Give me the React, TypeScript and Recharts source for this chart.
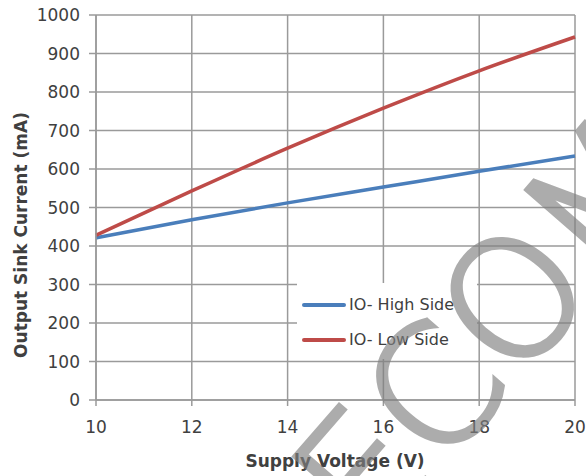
import React from "react"
import { LineChart, Line, XAxis, YAxis, CartesianGrid } from "recharts"

// Supply voltage (V) on the x axis
const voltage = [10, 12, 14, 16, 18, 20]
// output sink current (mA)
const highSide = [421, 468, 512, 553, 594, 634]
const lowSide = [428, 543, 654, 758, 855, 943]

const xTicks = [10, 12, 14, 16, 18, 20]
const yTicks = [0, 100, 200, 300, 400, 500, 600, 700, 800, 900, 1000]

const seriesNames = ["IO- High Side", "IO- Low Side"]
const seriesColors = ["#4a7ebb", "#be4b48"]

const data = voltage.map((v, i) => ({ v, high: highSide[i], low: lowSide[i] }))

const FONT = "'DejaVu Sans', sans-serif"
const GRID = "#9a9a9a"
const TEXT = "#404040"

const YTitle = () => (
  <text
    x={27}
    y={235}
    transform="rotate(-90 27 235)"
    textAnchor="middle"
    fontFamily={FONT}
    fontSize={17}
    fontWeight="bold"
    fill={TEXT}
  >
    Output Sink Current (mA)
  </text>
)

const XTitle = () => (
  <text x={335} y={467} textAnchor="middle" fontFamily={FONT} fontSize={17} fontWeight="bold" fill={TEXT}>
    Supply Voltage (V)
  </text>
)

export default function App() {
  return (
    <div style={{ position: "absolute", left: 0, top: 0, width: 586, height: 476, background: "#fff" }}>
      <LineChart width={586} height={476} data={data} margin={{ top: 15, right: 11, bottom: 0, left: 0 }}>
        <CartesianGrid stroke={GRID} strokeWidth={1.5} />
        <XAxis
          dataKey="v"
          type="number"
          domain={[10, 20]}
          ticks={xTicks}
          interval={0}
          height={76}
          stroke={GRID}
          strokeWidth={1.5}
          tickSize={6}
          tickMargin={15}
          tick={{ fill: TEXT, fontSize: 17, fontFamily: FONT }}
          label={<XTitle />}
        />
        <YAxis
          width={96}
          type="number"
          domain={[0, 1000]}
          ticks={yTicks}
          interval={0}
          stroke={GRID}
          strokeWidth={1.5}
          tickSize={7}
          tickMargin={9}
          tick={{ fill: TEXT, fontSize: 17, fontFamily: FONT }}
          label={<YTitle />}
        />
        <Line dataKey="high" type="monotone" stroke={seriesColors[0]} strokeWidth={3.5} dot={false} isAnimationActive={false} />
        <Line dataKey="low" type="monotone" stroke={seriesColors[1]} strokeWidth={3.5} dot={false} isAnimationActive={false} />
      </LineChart>

      {/* legend box sits inside the plot area */}
      <div
        style={{
          position: "absolute",
          left: 297,
          top: 283,
          width: 180,
          height: 76,
          background: "#fff",
          fontFamily: FONT,
          fontSize: 16,
          color: TEXT,
        }}
      >
        {seriesNames.map((name, i) => (
          <div key={name} style={{ position: "absolute", left: 5, top: 12 + i * 35, display: "flex", alignItems: "center", whiteSpace: "nowrap" }}>
            <span style={{ display: "inline-block", width: 44, height: 4, borderRadius: 2, background: seriesColors[i], marginRight: 3 }} />
            <span>{name}</span>
          </div>
        ))}
      </div>

      {/* watermark */}
      <svg width={586} height={476} style={{ position: "absolute", left: 0, top: 0, pointerEvents: "none" }}>
        <text
          x={372}
          y={550}
          transform="rotate(-49 372 550)"
          fontFamily={FONT}
          fontWeight={200}
          fontSize={164}
          fill="#808080"
          stroke="#808080"
          strokeWidth={5}
          opacity={0.65}
        >
          ECOM
        </text>
      </svg>
    </div>
  )
}
